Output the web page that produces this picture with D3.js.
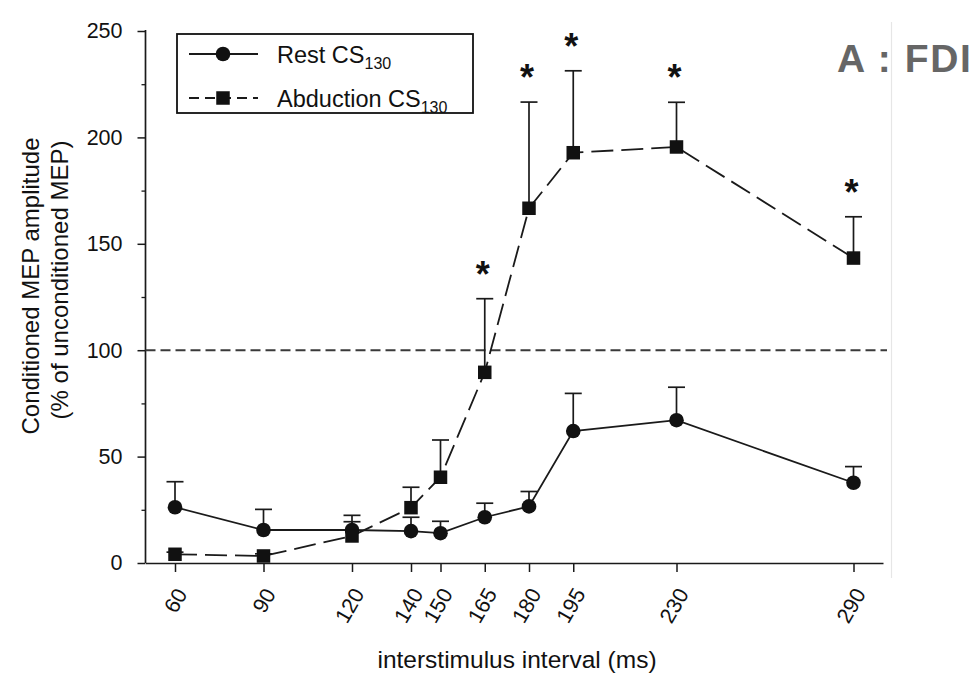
<!DOCTYPE html>
<html>
<head>
<meta charset="utf-8">
<script src="https://cdn.jsdelivr.net/npm/d3@7"></script>
<style>
  html, body { margin: 0; padding: 0; background: #fff; }
  svg { display: block; font-family: "Liberation Sans", Arial, Helvetica, sans-serif; }
</style>
</head>
<body>
<svg id="chart" width="974" height="673"></svg>
<script>
// Interstimulus intervals (ms)
const isi = [60, 90, 120, 140, 150, 165, 180, 195, 230, 290];

// Conditioned MEP amplitude (% of unconditioned MEP), mean and upper SEM
const restMean = [26.2, 15.5, 15.5, 15.0, 14.0, 21.5, 26.6, 62.0, 67.1, 37.7];
const restErr  = [12.0, 9.7, 6.9, 6.5, 5.6, 6.6, 7.0, 17.7, 15.5, 7.6];
const abdMean  = [4.1, 3.3, 12.7, 26.0, 40.3, 89.6, 166.7, 192.8, 195.5, 143.3];
const abdErr   = [1.0, 1.0, 6.7, 9.6, 17.5, 34.6, 49.9, 38.5, 21.0, 19.4];

// Significant differences between conditions
const sigIsi = [165, 180, 195, 230, 290];

const yTicks = [0, 50, 100, 150, 200, 250];
const yMinorTicks = [25, 75, 125, 175, 225];
const baseline = 100;

const seriesNames = ["Rest CS", "Abduction CS"];
const seriesSub = "130";

const svg = d3.select("#chart");
const ink = "#1a1a1a";

const x = d3.scaleLinear().domain([50, 300]).range([145.5, 883]);
const y = d3.scaleLinear().domain([0, 250]).range([563, 31]);

// faint frame edge to the right of the plot
svg.append("line")
  .attr("x1", 891.5).attr("x2", 891.5).attr("y1", 22).attr("y2", 578)
  .attr("stroke", "#e6e6e6").attr("stroke-width", 1.2);

// Axes
const yAxis = d3.axisLeft(y).tickValues(yTicks).tickSize(8).tickPadding(15).tickSizeOuter(0);
const gy = svg.append("g").attr("transform", `translate(${x.range()[0]},0)`).call(yAxis);
gy.select(".domain").attr("stroke", ink).attr("stroke-width", 1.7)
  .attr("d", `M0,${y(0)}V${y(250) - 1}`);
gy.selectAll(".tick line").attr("stroke", ink).attr("stroke-width", 1.5);
gy.selectAll(".tick text").attr("fill", "#111").style("font-size", "21.5px");

const gyMinor = svg.append("g").attr("transform", `translate(${x.range()[0]},0)`)
  .call(d3.axisLeft(y).tickValues(yMinorTicks).tickSize(4).tickFormat(""));
gyMinor.select(".domain").remove();
gyMinor.selectAll(".tick line").attr("stroke", ink).attr("stroke-width", 1.3);

const xAxis = d3.axisBottom(x).tickValues(isi).tickSize(9).tickSizeOuter(0);
const gx = svg.append("g").attr("transform", `translate(0,${y(0)})`).call(xAxis);
gx.select(".domain").attr("stroke", ink).attr("stroke-width", 1.7);
gx.selectAll(".tick line").attr("stroke", ink).attr("stroke-width", 1.5);
gx.selectAll(".tick text")
  .attr("fill", "#111").style("font-size", "21.5px")
  .attr("text-anchor", "end")
  .attr("dy", "0.35em")
  .attr("transform", "translate(6,27) rotate(-60)")
  .attr("x", 0).attr("y", 0);

// Reference line at 100 %
svg.append("line")
  .attr("x1", x.range()[0]).attr("x2", x.range()[1] + 4)
  .attr("y1", y(baseline)).attr("y2", y(baseline))
  .attr("stroke", "#3a3a3a").attr("stroke-width", 2)
  .attr("stroke-dasharray", "10,5");

// Series data
const rest = isi.map((d, i) => ({ isi: d, mean: restMean[i], err: restErr[i] }));
const abd = isi.map((d, i) => ({ isi: d, mean: abdMean[i], err: abdErr[i] }));

const line = d3.line().x(d => x(d.isi)).y(d => y(d.mean));

// Error bars (upper SEM)
function errorBars(data, cls) {
  const g = svg.append("g").attr("class", cls);
  g.selectAll("line.v").data(data).join("line").attr("class", "v")
    .attr("x1", d => x(d.isi)).attr("x2", d => x(d.isi))
    .attr("y1", d => y(d.mean)).attr("y2", d => y(d.mean + d.err))
    .attr("stroke", ink).attr("stroke-width", 1.7);
  g.selectAll("line.cap").data(data).join("line").attr("class", "cap")
    .attr("x1", d => x(d.isi) - 8.5).attr("x2", d => x(d.isi) + 8.5)
    .attr("y1", d => y(d.mean + d.err)).attr("y2", d => y(d.mean + d.err))
    .attr("stroke", ink).attr("stroke-width", 1.7);
}
errorBars(rest, "rest-err");
errorBars(abd, "abd-err");

svg.append("path").datum(rest).attr("d", line)
  .attr("fill", "none").attr("stroke", ink).attr("stroke-width", 1.8);
svg.append("path").datum(abd).attr("d", line)
  .attr("fill", "none").attr("stroke", ink).attr("stroke-width", 1.8)
  .attr("stroke-dasharray", "22,8");

svg.append("g").selectAll("circle").data(rest).join("circle")
  .attr("cx", d => x(d.isi)).attr("cy", d => y(d.mean)).attr("r", 7.3)
  .attr("fill", "#111");
const sq = 13.5;
svg.append("g").selectAll("rect").data(abd).join("rect")
  .attr("x", d => x(d.isi) - sq / 2).attr("y", d => y(d.mean) - sq / 2)
  .attr("width", sq).attr("height", sq).attr("fill", "#111");

// Significance asterisks above the abduction error bars
svg.append("g").selectAll("text").data(abd.filter(d => sigIsi.includes(d.isi))).join("text")
  .attr("x", d => x(d.isi) - 2).attr("y", d => y(d.mean + d.err) - 12)
  .attr("text-anchor", "middle")
  .style("font-size", "36px").style("font-weight", "bold")
  .attr("fill", "#111").text("*");

// Legend
const lg = svg.append("g");
lg.append("rect").attr("x", 177).attr("y", 34).attr("width", 296).attr("height", 79)
  .attr("fill", "#fff").attr("stroke", "#111").attr("stroke-width", 1.8);
const rows = [54, 98];
lg.append("line").attr("x1", 189).attr("x2", 258).attr("y1", rows[0]).attr("y2", rows[0])
  .attr("stroke", ink).attr("stroke-width", 1.8);
lg.append("circle").attr("cx", 223).attr("cy", rows[0]).attr("r", 7.3).attr("fill", "#111");
lg.append("line").attr("x1", 189).attr("x2", 258).attr("y1", rows[1]).attr("y2", rows[1])
  .attr("stroke", ink).attr("stroke-width", 1.8).attr("stroke-dasharray", "10,6");
lg.append("rect").attr("x", 223 - sq / 2).attr("y", rows[1] - sq / 2)
  .attr("width", sq).attr("height", sq).attr("fill", "#111");
seriesNames.forEach((name, i) => {
  const t = lg.append("text").attr("x", 277).attr("y", rows[i] + 9)
    .style("font-size", "23.5px").attr("fill", "#111");
  t.append("tspan").text(name);
  t.append("tspan").attr("dy", 6).style("font-size", "16px").text(seriesSub);
});

// Axis titles
svg.append("text")
  .attr("x", 517).attr("y", 668).attr("text-anchor", "middle")
  .style("font-size", "24.5px").attr("fill", "#111")
  .text("interstimulus interval (ms)");

const yt = svg.append("g").attr("transform", "translate(0,288) rotate(-90)");
yt.append("text").attr("x", 2).attr("y", 39).attr("text-anchor", "middle")
  .style("font-size", "24px").attr("fill", "#111").text("Conditioned MEP amplitude");
yt.append("text").attr("x", 8).attr("y", 68).attr("text-anchor", "middle")
  .style("font-size", "24px").attr("fill", "#111").text("(% of unconditioned MEP)");

// Panel label
svg.append("text").attr("x", 837).attr("y", 72)
  .style("font-size", "39px").style("font-weight", "bold").style("letter-spacing", "1.6px")
  .attr("fill", "#666")
  .text("A : FDI");
</script>
</body>
</html>
